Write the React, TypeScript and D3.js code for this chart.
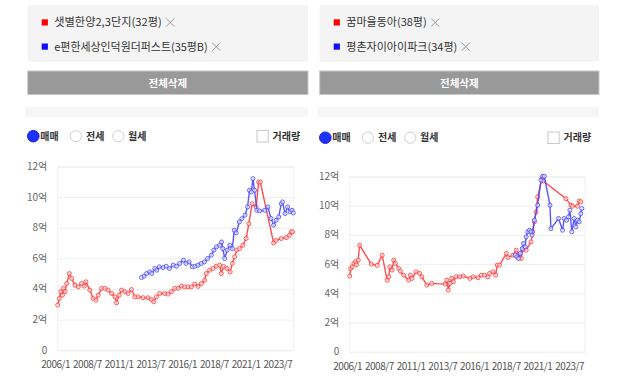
import * as d3 from "d3";

// y axis ticks (억 원)
const yTicks = [0, 2, 4, 6, 8, 10, 12];
const yTickLabels = ["0", "2억", "4억", "6억", "8억", "10억", "12억"];
// x axis ticks (decimal years) and labels
const xTicks = [2006, 2008.5, 2011, 2013.5, 2016, 2018.5, 2021, 2023.5];
const xTickLabels = ["2006/1", "2008/7", "2011/1", "2013/7", "2016/1", "2018/7", "2021/1", "2023/7"];

// left panel series
const leftNames = ["샛별한양2,3단지(32평)", "e편한세상인덕원더퍼스트(35평B)"];
const leftRed: [number, number][] = [
  [2006.0, 2.98], [2006.13, 3.41], [2006.24, 3.85], [2006.37, 3.63], [2006.45, 4.07], [2006.58, 3.85],
  [2006.71, 4.39], [2006.92, 5.04], [2007.1, 4.72], [2007.36, 4.28], [2007.62, 4.17], [2007.88, 4.39],
  [2008.09, 4.22], [2008.22, 4.5], [2008.53, 3.96], [2008.8, 3.41], [2009.0, 3.3], [2009.19, 3.63],
  [2009.45, 4.07], [2009.71, 4.07], [2009.97, 3.96], [2010.24, 3.74], [2010.5, 3.52], [2010.63, 3.13],
  [2010.84, 3.63], [2011.03, 3.96], [2011.29, 3.85], [2011.55, 3.74], [2011.81, 4.0], [2012.07, 3.52],
  [2012.33, 3.52], [2012.72, 3.46], [2013.11, 3.46], [2013.38, 3.35], [2013.56, 3.2], [2013.77, 3.52],
  [2014.03, 3.74], [2014.42, 3.74], [2014.69, 3.7], [2014.95, 3.85], [2015.21, 4.07], [2015.48, 4.07],
  [2015.74, 4.22], [2016.0, 4.17], [2016.26, 4.17], [2016.52, 4.17], [2016.79, 4.35], [2017.05, 4.2],
  [2017.31, 4.39], [2017.57, 4.6], [2017.7, 5.04], [2017.96, 5.26], [2018.22, 5.37], [2018.48, 5.52],
  [2018.75, 5.59], [2018.88, 5.04], [2019.06, 5.5], [2019.32, 5.37], [2019.58, 5.15], [2019.75, 5.7],
  [2019.93, 6.13], [2020.1, 6.57], [2020.32, 6.67], [2020.58, 6.89], [2020.84, 7.33], [2021.05, 8.3],
  [2021.31, 9.6], [2021.63, 9.39], [2021.82, 11.02], [2021.95, 11.02], [2023.0, 7.04], [2023.2, 7.2],
  [2023.6, 7.33], [2024.0, 7.39], [2024.25, 7.54], [2024.4, 7.76], [2024.5, 7.76],
];
const leftBlue: [number, number][] = [
  [2012.6, 4.78], [2012.8, 4.87], [2013.0, 5.04], [2013.25, 5.15], [2013.4, 5.04], [2013.65, 5.37],
  [2013.8, 5.26], [2014.0, 5.48], [2014.3, 5.43], [2014.55, 5.52], [2014.8, 5.37], [2015.1, 5.59],
  [2015.35, 5.52], [2015.6, 5.7], [2015.9, 5.91], [2016.1, 5.7], [2016.35, 5.8], [2016.6, 5.48],
  [2016.8, 5.52], [2017.05, 5.59], [2017.3, 5.7], [2017.55, 5.8], [2017.8, 6.02], [2018.1, 6.24],
  [2018.3, 6.57], [2018.5, 6.78], [2018.75, 6.89], [2018.9, 7.1], [2019.0, 6.67], [2019.15, 6.02],
  [2019.35, 6.57], [2019.55, 6.89], [2019.75, 6.67], [2019.9, 7.87], [2020.05, 7.7], [2020.3, 8.41],
  [2020.5, 8.63], [2020.75, 8.85], [2020.95, 9.39], [2021.1, 10.48], [2021.25, 10.37], [2021.37, 11.24],
  [2021.5, 10.48], [2021.68, 9.17], [2021.9, 9.13], [2022.3, 9.17], [2022.55, 9.39], [2022.8, 8.63],
  [2023.0, 8.2], [2023.2, 8.52], [2023.4, 8.74], [2023.6, 9.6], [2023.7, 9.72], [2023.9, 8.96],
  [2024.1, 9.39], [2024.3, 9.07], [2024.45, 9.17], [2024.55, 9.0],
];

// right panel series
const rightNames = ["꿈마을동아(38평)", "평촌자이아이파크(34평)"];
const rightRed: [number, number][] = [
  [2006.0, 5.22], [2006.08, 5.74], [2006.2, 5.85], [2006.33, 6.08], [2006.46, 6.2], [2006.54, 6.0],
  [2006.67, 6.31], [2006.78, 7.33], [2007.7, 6.04], [2008.17, 5.95], [2008.56, 6.65], [2008.95, 4.94],
  [2009.08, 5.17], [2009.16, 5.85], [2009.34, 5.63], [2009.47, 6.31], [2009.6, 6.08], [2009.86, 5.74],
  [2009.99, 5.56], [2010.25, 5.28], [2010.65, 4.94], [2010.78, 5.28], [2010.91, 5.06], [2011.22, 5.51],
  [2011.51, 5.4], [2011.69, 5.17], [2012.08, 4.6], [2012.47, 4.72], [2013.52, 4.67], [2013.65, 4.94],
  [2013.78, 4.26], [2013.91, 4.72], [2014.04, 5.06], [2014.17, 4.83], [2014.38, 5.17], [2014.69, 5.17],
  [2014.95, 5.22], [2015.47, 5.06], [2015.73, 5.17], [2016.12, 5.1], [2016.38, 5.28], [2016.64, 5.28],
  [2016.9, 5.17], [2017.03, 5.4], [2017.29, 5.51], [2017.5, 5.28], [2017.63, 5.97], [2017.81, 5.97],
  [2018.35, 6.77], [2018.48, 6.49], [2018.87, 6.65], [2019.13, 6.99], [2019.34, 6.65], [2019.52, 6.42],
  [2019.65, 7.04], [2019.91, 6.99], [2020.3, 7.56], [2020.43, 8.25], [2020.56, 8.93], [2020.69, 9.61],
  [2020.82, 10.64], [2021.16, 11.89], [2021.27, 11.73], [2023.05, 10.52], [2023.44, 10.07],
  [2023.57, 10.0], [2023.96, 10.0], [2024.09, 10.36], [2024.22, 10.3],
];
const rightBlue: [number, number][] = [
  [2019.05, 6.65], [2019.18, 6.54], [2019.31, 6.42], [2019.44, 6.77], [2019.6, 7.1], [2019.7, 7.45],
  [2019.83, 7.22], [2019.91, 7.9], [2020.04, 8.25], [2020.17, 8.36], [2020.3, 8.25], [2020.38, 8.02],
  [2020.56, 9.04], [2020.82, 10.07], [2021.08, 11.78], [2021.21, 12.05], [2021.34, 12.05],
  [2021.79, 10.07], [2021.86, 8.47], [2022.47, 9.16], [2022.78, 8.36], [2022.91, 9.16], [2023.1, 9.04],
  [2023.25, 9.27], [2023.36, 9.73], [2023.51, 8.25], [2023.7, 9.16], [2023.83, 8.59], [2023.96, 9.04],
  [2024.09, 8.93], [2024.22, 9.5], [2024.3, 9.84],
];

const RED = "#ff3b3b";
const BLUE = "#4646ff";
const FONT = "'Noto Sans CJK KR', 'Noto Sans', sans-serif";

type PanelProps = {
  left: number;
  right: number;
  dy: number;
  names: string[];
  nameEnds: number[];
  red: [number, number][];
  blue: [number, number][];
  plotX: [number, number];
  plotY: [number, number];
};

function Panel({ left, right, dy, names, nameEnds, red, blue, plotX, plotY }: PanelProps) {
  const x = d3.scaleLinear().domain([2006, 2024.55]).range(plotX);
  const y = d3.scaleLinear().domain([0, 12]).range([plotY[1], plotY[0]]);
  const line = d3
    .line<[number, number]>()
    .x((d) => x(d[0]))
    .y((d) => y(d[1]));
  const cx = (left + right) / 2;
  const radioY = 136.2 + dy;
  const colors = [RED, BLUE];

  return (
    <g fontFamily={FONT}>
      {/* legend box */}
      <rect x={left} y={5} width={right - left} height={56.5} fill="#f4f4f4" />
      {names.map((n, i) => {
        const yy = 22.5 + i * 24.2;
        const sx = left + 14;
        const tx = sx + 12.6;
        const xe = nameEnds[i];
        return (
          <g key={n}>
            <rect x={sx} y={yy - 3.2} width={6.2} height={6.2} fill={i === 0 ? "#ff0000" : "#1010ff"} />
            <text
              x={tx}
              y={yy}
              dy="0.36em"
              fontSize={11}
              fill="#333"
              textLength={xe - tx}
              lengthAdjust="spacingAndGlyphs"
            >
              {n}
            </text>
            <g stroke="#9a9a9a" strokeWidth={1}>
              <line x1={xe + 4.5} y1={yy - 4} x2={xe + 12.5} y2={yy + 4} />
              <line x1={xe + 12.5} y1={yy - 4} x2={xe + 4.5} y2={yy + 4} />
            </g>
          </g>
        );
      })}
      {/* delete-all button */}
      <rect x={left} y={71} width={right - left} height={23.5} fill="#999" stroke="#c8c8c8" />
      <text x={cx} y={82.8} dy="0.36em" textAnchor="middle" fontSize={10.5} fontWeight={700} fill="#fff">
        전체삭제
      </text>
      <rect x={left - 2.5} y={107} width={right - left + 2.5} height={10} fill="#f6f6f6" />

      {/* radio row */}
      <circle cx={left + 5.6} cy={radioY} r={5.8} fill="#1e32ff" stroke="#2222cc" strokeWidth={1} />
      <text x={left + 12.5} y={radioY} dy="0.36em" fontSize={10} fontWeight={600} fill="#333">매매</text>
      <circle cx={left + 48.2} cy={radioY} r={5.6} fill="#fff" stroke="#cfcfcf" />
      <text x={left + 58.4} y={radioY} dy="0.36em" fontSize={10} fontWeight={600} fill="#333">전세</text>
      <circle cx={left + 90.6} cy={radioY} r={5.6} fill="#fff" stroke="#cfcfcf" />
      <text x={left + 100.4} y={radioY} dy="0.36em" fontSize={10} fontWeight={600} fill="#333">월세</text>
      <rect x={right - 51} y={radioY - 5.7} width={11.2} height={11.5} fill="#fff" stroke="#c8c8c8" />
      <text x={right - 35.5} y={radioY} dy="0.36em" fontSize={10} fontWeight={600} fill="#333">거래량</text>

      {/* plot frame and grid */}
      <rect x={plotX[0]} y={plotY[0]} width={plotX[1] - plotX[0]} height={plotY[1] - plotY[0]} fill="none" stroke="#f0f0f0" />
      {yTicks.map((t, i) => (
        <g key={t}>
          <line x1={plotX[0]} x2={plotX[1]} y1={y(t)} y2={y(t)} stroke="#eeeeee" />
          <text x={plotX[0] - 10.5} y={y(t) - 0.5} dy="0.35em" textAnchor="end" fontSize={10} fill="#666">
            {yTickLabels[i]}
          </text>
        </g>
      ))}
      {xTicks.map((t, i) => (
        <text key={t} x={x(t) - 2} y={plotY[1] + 17.5} textAnchor="middle" fontSize={10} fill="#555" letterSpacing={-0.45}>
          {xTickLabels[i]}
        </text>
      ))}

      {/* series */}
      {[red, blue].map((s, k) => (
        <g key={k}>
          <path d={line(s) ?? ""} fill="none" stroke={colors[k]} strokeWidth={1.4} strokeOpacity={0.9} />
          {s.map((d, j) => (
            <circle key={j} cx={x(d[0])} cy={y(d[1])} r={2} fill="#fff" fillOpacity={0.6} stroke={colors[k]} strokeWidth={1} strokeOpacity={0.85} />
          ))}
        </g>
      ))}
    </g>
  );
}

export default function App() {
  return (
    <svg width={629} height={384} style={{ position: "absolute", left: 0, top: 0, background: "#fff" }}>
      <Panel
        left={27.7}
        right={308}
        dy={0}
        names={leftNames}
        nameEnds={[161.7, 207.7]}
        red={leftRed}
        blue={leftBlue}
        plotX={[57.7, 293.3]}
        plotY={[167, 350.7]}
      />
      <Panel
        left={319.7}
        right={599}
        dy={1.5}
        names={rightNames}
        nameEnds={[426.7, 457.3]}
        red={rightRed}
        blue={rightBlue}
        plotX={[349.7, 585]}
        plotY={[177, 352.3]}
      />
    </svg>
  );
}
